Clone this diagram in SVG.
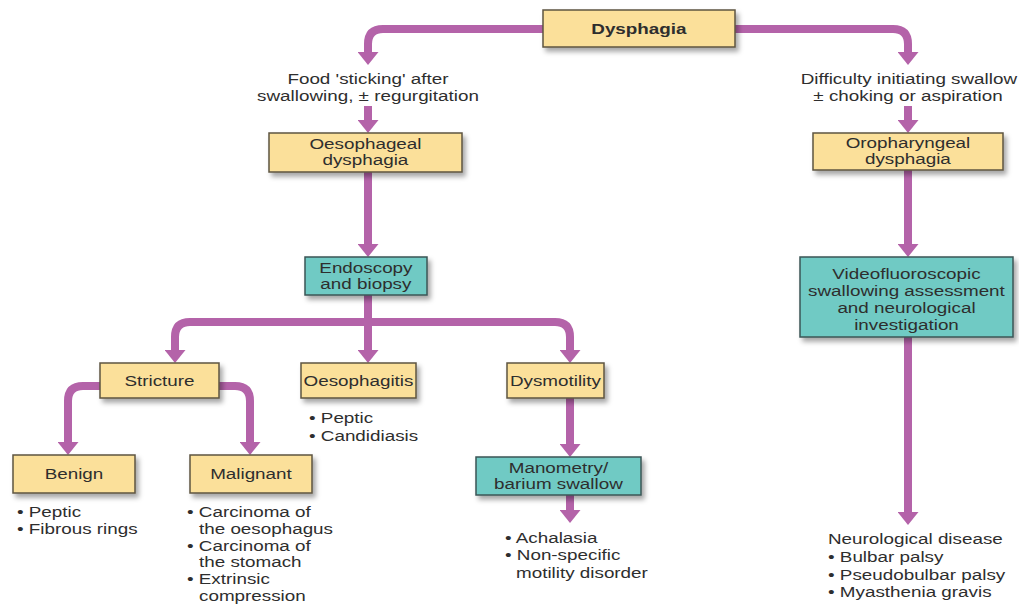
<svg xmlns="http://www.w3.org/2000/svg" width="1019" height="606" viewBox="0 0 1019 606">
<style>
.t{font-family:"Liberation Sans",Arial,sans-serif;font-size:14.5px;fill:#2e2e2e;transform-box:fill-box;transform:scaleX(1.3)}
.c{text-anchor:middle;transform-origin:center}
.l{text-anchor:start;transform-origin:left center}
.b{font-weight:bold}
.y{fill:#fbe09a;stroke:#5e5540;stroke-width:1.5;filter:url(#sh)}
.g{fill:#6fcac4;stroke:#3b5656;stroke-width:1.5;filter:url(#sh)}
.k{fill:none;stroke:#b463a9;stroke-width:8;marker-end:url(#ah)}
</style>
<defs>
<filter id="sh" x="-10%" y="-10%" width="130%" height="150%">
<feDropShadow dx="3" dy="4" stdDeviation="2.5" flood-color="#000" flood-opacity="0.35"/>
</filter>
<marker id="ah" markerUnits="userSpaceOnUse" markerWidth="13" markerHeight="21" viewBox="0 0 13 21" refX="1" refY="10.5" orient="auto">
<path d="M0,0 L13,10.5 L0,21 z" fill="#b463a9"/>
</marker>
</defs>
<rect width="1019" height="606" fill="#ffffff"/>

<g id="connectors">
<path class="k" d="M543,29 H383 Q368,29 368,44 V53"/>
<path class="k" d="M735,29 H893 Q908,29 908,44 V53"/>
<path class="k" d="M368,106 V121"/>
<path class="k" d="M908,106 V121"/>
<path class="k" d="M368,172 V245"/>
<path class="k" d="M908,170 V245"/>
<path class="k" d="M368,295 V351"/>
<path class="k" d="M368,322 H190 Q175,322 175,337 V351"/>
<path class="k" d="M368,322 H555 Q570,322 570,337 V351"/>
<path class="k" d="M100,386 H83 Q68,386 68,401 V443"/>
<path class="k" d="M219,386 H235 Q250,386 250,401 V443"/>
<path class="k" d="M570,398 V445"/>
<path class="k" d="M570,495 V511"/>
<path class="k" d="M908,337 V513"/>
</g>

<g id="n-dysphagia">
<rect class="y" x="543" y="10" width="192" height="37"/>
<text class="t c b" x="639" y="34">Dysphagia</text>
</g>

<g id="l-food">
<text class="t c" x="368" y="84">Food 'sticking' after</text>
<text class="t c" x="368" y="101">swallowing, ± regurgitation</text>
</g>

<g id="l-difficulty">
<text class="t c" x="909" y="84">Difficulty initiating swallow</text>
<text class="t c" x="908" y="101">± choking or aspiration</text>
</g>

<g id="n-oesophageal">
<rect class="y" x="269" y="133" width="193" height="39"/>
<text class="t c" x="365.5" y="149">Oesophageal</text>
<text class="t c" x="365.5" y="165">dysphagia</text>
</g>

<g id="n-oropharyngeal">
<rect class="y" x="813" y="133" width="190" height="37"/>
<text class="t c" x="908" y="148">Oropharyngeal</text>
<text class="t c" x="908" y="164">dysphagia</text>
</g>

<g id="n-endoscopy">
<rect class="g" x="305" y="257" width="122" height="38"/>
<text class="t c" x="366" y="273">Endoscopy</text>
<text class="t c" x="366" y="289">and biopsy</text>
</g>

<g id="n-video">
<rect class="g" x="800" y="257" width="213" height="80"/>
<text class="t c" x="906.5" y="279">Videofluoroscopic</text>
<text class="t c" x="906.5" y="296">swallowing assessment</text>
<text class="t c" x="906.5" y="313">and neurological</text>
<text class="t c" x="906.5" y="330">investigation</text>
</g>

<g id="n-stricture">
<rect class="y" x="100" y="363" width="119" height="35"/>
<text class="t c" x="159.5" y="386">Stricture</text>
</g>

<g id="n-oesophagitis">
<rect class="y" x="301" y="363" width="115" height="35"/>
<text class="t c" x="358.5" y="386">Oesophagitis</text>
<text class="t l" x="309" y="423">• Peptic</text>
<text class="t l" x="309" y="441">• Candidiasis</text>
</g>

<g id="n-dysmotility">
<rect class="y" x="507" y="363" width="97" height="35"/>
<text class="t c" x="555.5" y="386">Dysmotility</text>
</g>

<g id="n-benign">
<rect class="y" x="13" y="455" width="122" height="38"/>
<text class="t c" x="74" y="479">Benign</text>
<text class="t l" x="17" y="517">• Peptic</text>
<text class="t l" x="17" y="534">• Fibrous rings</text>
</g>

<g id="n-malignant">
<rect class="y" x="190" y="455" width="122" height="38"/>
<text class="t c" x="251" y="479">Malignant</text>
<text class="t l" x="187" y="517">• Carcinoma of</text>
<text class="t l" x="199" y="534">the oesophagus</text>
<text class="t l" x="187" y="551">• Carcinoma of</text>
<text class="t l" x="199" y="567">the stomach</text>
<text class="t l" x="187" y="584">• Extrinsic</text>
<text class="t l" x="199" y="601">compression</text>
</g>

<g id="n-manometry">
<rect class="g" x="476" y="457" width="165" height="38"/>
<text class="t c" x="558.5" y="473">Manometry/</text>
<text class="t c" x="558.5" y="489">barium swallow</text>
<text class="t l" x="505" y="543">• Achalasia</text>
<text class="t l" x="505" y="560">• Non-specific</text>
<text class="t l" x="516" y="578">motility disorder</text>
</g>

<g id="l-neuro">
<text class="t l" x="828" y="544">Neurological disease</text>
<text class="t l" x="828" y="562">• Bulbar palsy</text>
<text class="t l" x="828" y="580">• Pseudobulbar palsy</text>
<text class="t l" x="828" y="597">• Myasthenia gravis</text>
</g>
</svg>
